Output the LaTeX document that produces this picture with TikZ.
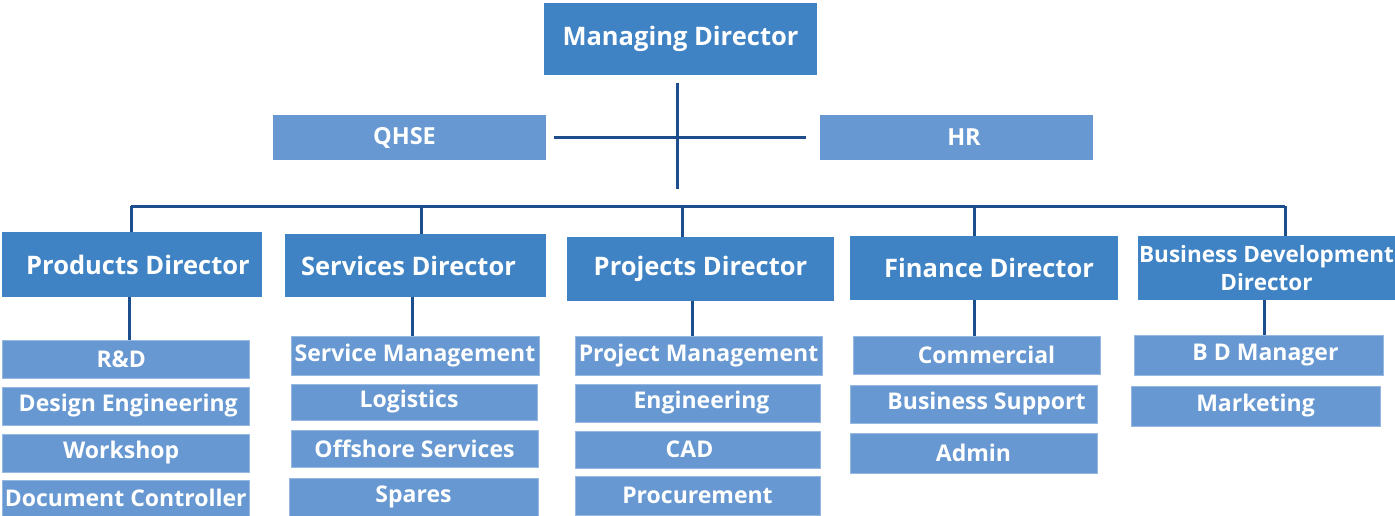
\documentclass[tikz,border=0pt]{standalone}
\usepackage{fontspec}
\newfontfamily\orgfont{Open Sans}

\begin{document}
\begin{tikzpicture}[x=1pt,y=-1pt,
  head/.style={fill=org_dark,text=white,inner sep=0pt,font=\orgfont\bfseries\fontsize{25.5}{28}\selectfont},
  side/.style={fill=org_light,text=white,inner sep=0pt,font=\orgfont\bfseries\fontsize{23.5}{26}\selectfont},
  unit/.style={fill=org_light,draw=org_edge,line width=0.8pt,text=white,inner sep=0pt,font=\orgfont\bfseries\fontsize{23}{26}\selectfont},
  link/.style={line width=3pt,color=org_line}]
% ------------------------------------------------ org chart colors
\definecolor{org_dark}{RGB}{63,131,196}   %#3F83C4
\definecolor{org_light}{RGB}{103,152,209} %#6798D1
\definecolor{org_edge}{RGB}{150,185,225}  %#96B9E1
\definecolor{org_line}{RGB}{28,78,142}    %#1C4E8E

\useasboundingbox (0,0) rectangle (1395,516);

% ------------------------------------------------ top level
\node[head,minimum width=273,minimum height=72] (MD) at (680.5,39) {Managing Director};
\node[side,minimum width=273,minimum height=45] (QHSE) at (409.5,137.5) {QHSE\kern10pt};
\node[side,minimum width=273,minimum height=45] (HR) at (956.5,137.5) {HR\kern-15pt};

% ------------------------------------------------ directors
\node[head,minimum width=260,minimum height=65] (PD) at (132,264.5) {\kern12pt Products Director};
\node[head,minimum width=261,minimum height=63] (SD) at (415.5,265.5) {Services Director\kern14pt};
\node[head,minimum width=267,minimum height=64] (PJ) at (700.5,269) {Projects Director};
\node[head,minimum width=268,minimum height=64] (FD) at (984,268) {\kern10pt Finance Director};
\node[head,minimum width=257,minimum height=64,align=center,
      font=\orgfont\bfseries\fontsize{22.5}{28}\selectfont] (BD) at (1266.5,268) {Business Development\\Director};

% ------------------------------------------------ units
\node[unit,minimum width=247,minimum height=38] (RD) at (125.75,359) {R\&D\kern9pt};
\node[unit,minimum width=247,minimum height=38] (DE) at (125.75,406) {\kern5pt Design Engineering};
\node[unit,minimum width=247,minimum height=38] (WS) at (125.75,453) {Workshop\kern9pt};
\node[unit,minimum width=247,minimum height=36] (DC) at (125.75,498) {Document Controller};

\node[unit,minimum width=248,minimum height=39] (SM) at (415,355.5) {Service Management};
\node[unit,minimum width=246,minimum height=36] (LG) at (414,402) {Logistics\kern10pt};
\node[unit,minimum width=247,minimum height=37] (OS) at (414.5,448.5) {Offshore Services};
\node[unit,minimum width=249,minimum height=38] (SP) at (413.5,497) {Spares};

\node[unit,minimum width=247,minimum height=39] (PM) at (698.5,355.5) {Project Management};
\node[unit,minimum width=245,minimum height=38] (EN) at (697.5,403) {\kern8pt Engineering};
\node[unit,minimum width=245,minimum height=37] (CA) at (697.5,449.5) {CAD\kern16pt};
\node[unit,minimum width=245,minimum height=39] (PR) at (697.5,495.5) {Procurement};

\node[unit,minimum width=247,minimum height=38] (CM) at (976.5,355) {\kern20pt Commercial};
\node[unit,minimum width=247,minimum height=38] (BS) at (973.5,404) {\kern26pt Business Support};
\node[unit,minimum width=247,minimum height=40] (AD) at (973.5,453) {Admin};

\node[unit,minimum width=249,minimum height=40] (BM) at (1258.5,355) {\kern14pt B D Manager};
\node[unit,minimum width=249,minimum height=40] (MK) at (1255.5,406) {Marketing};

% ------------------------------------------------ connectors
\coordinate (trunk_top) at (677,83);
\coordinate (trunk_bot) at (677,189);
\coordinate (bus_l) at (131,206);
\coordinate (bus_r) at (1285,206);

\draw[link] (trunk_top) -- (trunk_bot);
\draw[link,shorten <=8pt,shorten >=14pt] (QHSE) -- (HR);
\draw[link] (bus_l) -- (bus_r);

\foreach \d/\dx in {PD/-1,SD/5.5,PJ/-18.5,FD/-10,BD/18.5}
  \draw[link] ([xshift=\dx]\d.north |- bus_l) -- ([xshift=\dx]\d.north);

\foreach \d/\s/\dx in {PD/RD/-2.5,SD/SM/-3,PJ/PM/-8.5,FD/CM/-10,BD/BM/-2.5}
  \draw[link] ([xshift=\dx]\d.south) -- ([xshift=\dx]\d.south |- \s.north);

\end{tikzpicture}
\end{document}
